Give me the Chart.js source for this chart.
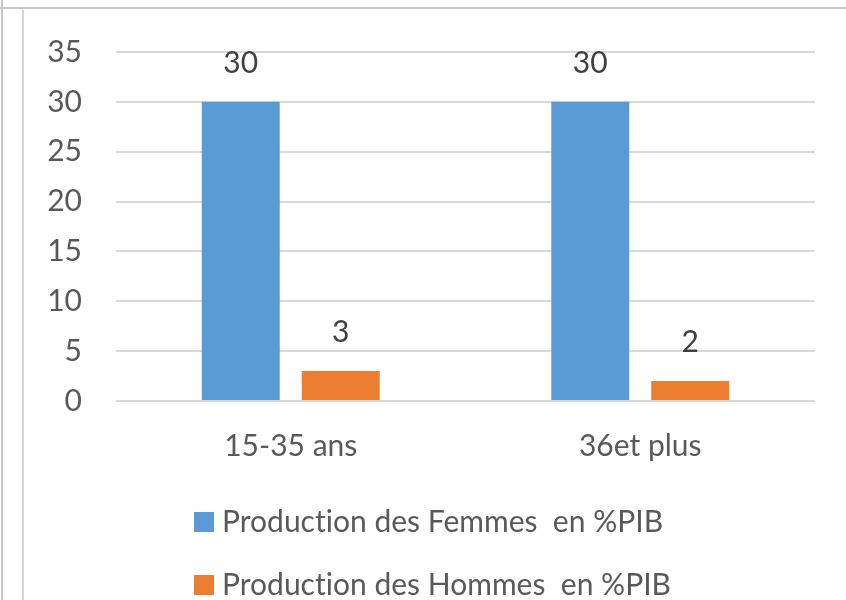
<!DOCTYPE html>
<html>
<head>
<meta charset="utf-8">
<script src="https://cdn.jsdelivr.net/npm/chart.js@4/dist/chart.umd.min.js"></script>
<style>
  html, body { margin: 0; padding: 0; background: #fff; }
  canvas { display: block; }
</style>
</head>
<body>
<canvas id="c" width="846" height="600"></canvas>
<script>
// values
const categories = ['15-35 ans', '36et plus'];
const femmes = [30, 30];
const hommes = [3, 2];
const seriesNames = ['Production des Femmes  en %PIB', 'Production des Hommes  en %PIB'];
const yTicks = [0, 5, 10, 15, 20, 25, 30, 35];

const BLUE = '#5B9BD5';
const ORANGE = '#ED7D31';
const FONT = 'Lato, "Open Sans", sans-serif';
const SIZE = 30;

// grey frame lines around the pasted chart
const framePlugin = {
  id: 'frame',
  beforeDraw(chart) {
    const ctx = chart.ctx;
    ctx.save();
    ctx.fillStyle = '#fff';
    ctx.fillRect(0, 0, chart.width, chart.height);
    ctx.fillStyle = '#c6c6c6';
    ctx.fillRect(0, 7, chart.width, 2);
    ctx.fillRect(1, 0, 2, chart.height);
    ctx.fillStyle = '#d4d4d4';
    ctx.fillRect(22, 10, 2, chart.height - 10);
    ctx.restore();
  }
};

// value labels above each bar
const valueLabels = {
  id: 'valueLabels',
  afterDatasetsDraw(chart) {
    const ctx = chart.ctx;
    ctx.save();
    ctx.font = SIZE + 'px ' + FONT;
    ctx.fillStyle = '#404040';
    ctx.textAlign = 'center';
    ctx.textBaseline = 'middle';
    chart.data.datasets.forEach((ds, i) => {
      chart.getDatasetMeta(i).data.forEach((bar, j) => {
        ctx.fillText(String(ds.data[j]), bar.x, bar.y - 39);
      });
    });
    ctx.restore();
  }
};

// legend stacked vertically, as in the reference
const stackedLegend = {
  id: 'stackedLegend',
  afterDraw(chart) {
    const ctx = chart.ctx;
    ctx.save();
    ctx.font = SIZE + 'px ' + FONT;
    ctx.textBaseline = 'middle';
    ctx.textAlign = 'left';
    // tiny letter spacing keeps Lato from joining "ti"
    if ('letterSpacing' in ctx) ctx.letterSpacing = '0.01px';
    chart.data.datasets.forEach((ds, i) => {
      const y = 522 + i * 63;
      ctx.fillStyle = ds.backgroundColor;
      ctx.fillRect(194, y - 10, 20, 20);
      ctx.fillStyle = '#595959';
      ctx.fillText(ds.label, 222, y);
    });
    ctx.restore();
  }
};

new Chart(document.getElementById('c'), {
  type: 'bar',
  data: {
    labels: categories,
    datasets: [
      { label: seriesNames[0], data: femmes, backgroundColor: BLUE },
      { label: seriesNames[1], data: hommes, backgroundColor: ORANGE }
    ]
  },
  options: {
    responsive: false,
    animation: false,
    devicePixelRatio: 1,
    categoryPercentage: 0.572,
    barPercentage: 0.78,
    layout: { padding: { left: 0, right: 31, top: 51, bottom: 119 } },
    plugins: { legend: { display: false }, tooltip: { enabled: false } },
    scales: {
      x: {
        grid: { display: false },
        border: { display: false },
        ticks: { color: '#595959', font: { family: FONT, size: SIZE }, padding: 19 },
        afterFit(scale) { scale.height = 80; }
      },
      y: {
        min: 0,
        max: 35,
        afterBuildTicks(scale) { scale.ticks = yTicks.map(v => ({ value: v })); },
        grid: { color: '#d9d9d9', lineWidth: 2, drawTicks: false },
        border: { display: false },
        ticks: { color: '#595959', font: { family: FONT, size: SIZE }, padding: 34 },
        afterFit(scale) { scale.width = 116; }
      }
    }
  },
  plugins: [framePlugin, valueLabels, stackedLegend]
});
</script>
</body>
</html>
